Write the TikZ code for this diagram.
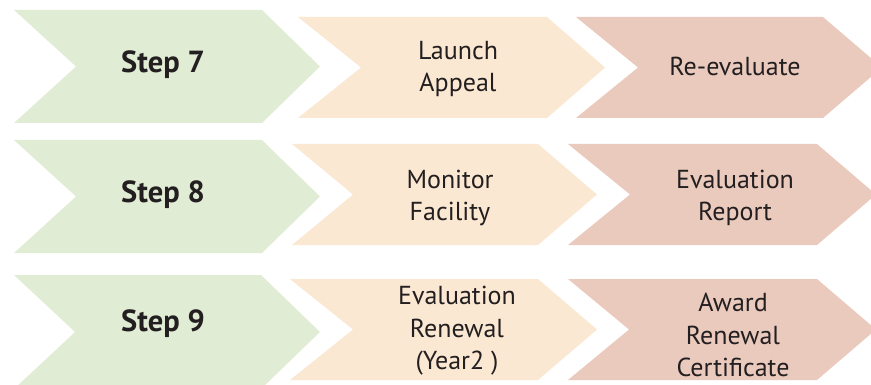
\documentclass[tikz,border=0pt]{standalone}
\usepackage{fontspec}
\setmainfont{PT Sans}
\definecolor{cgreen}{RGB}{225,236,212}
\definecolor{cbeige}{RGB}{251,232,210}
\definecolor{cpink}{RGB}{235,202,190}
\definecolor{ctext}{RGB}{35,31,32}
% #1 colour, #2 left, #3 notch, #4 right, #5 tip, #6 top, #7 bottom
\newcommand\mychev[7]{%
  \fill[#1] (#2,#6) -- (#4,#6) -- (#5,{(#6+#7)/2}) -- (#4,#7) -- (#2,#7) -- (#3,{(#6+#7)/2}) -- cycle;}
\begin{document}
\begin{tikzpicture}[x=1pt,y=-1pt,
  steptxt/.style={text=ctext,font=\fontsize{30.5}{32}\selectfont\bfseries,inner sep=0pt},
  boxtxt/.style={text=ctext,font=\fontsize{26}{32.5}\selectfont,align=center,inner sep=0pt}]
\useasboundingbox (0,0) rectangle (871,385);
\begin{scope}
\clip (0,0) rectangle (871,385);
\mychev{cgreen}{14}{76}{262}{320}{10}{123}
\mychev{cbeige}{298}{361}{547}{605}{17}{118}
\mychev{cpink}{576}{638}{823}{882}{17}{118}
\mychev{cgreen}{14}{76}{262}{320}{140}{253}
\mychev{cbeige}{292}{353}{538}{597}{144}{245}
\mychev{cpink}{568}{630}{817}{876}{144}{245}
\mychev{cgreen}{14}{75}{261}{320}{275}{389}
\mychev{cbeige}{290}{353}{538}{597}{279}{380}
\mychev{cpink}{568}{629}{817}{876}{279}{380}
\end{scope}
\node[steptxt] (s7) at (163,65) {Step 7};
\node[boxtxt] (a7) at (458,69) {Launch\\Appeal};
\node[boxtxt] (b7) at (735,66) {Re-evaluate};
\node[steptxt] (s8) at (163,195) {Step 8};
\node[boxtxt] (a8) at (450,198) {Monitor\\Facility};
\node[boxtxt] (b8) at (735,198) {Evaluation\\Report};
\node[steptxt] (s9) at (163,324) {Step 9};
\node[boxtxt] (a9) at (457,331) {Evaluation\\Renewal\\(Year2 )};
\node[boxtxt] (b9) at (733,335) {Award\\Renewal\\Certificate};
\end{tikzpicture}
\end{document}
